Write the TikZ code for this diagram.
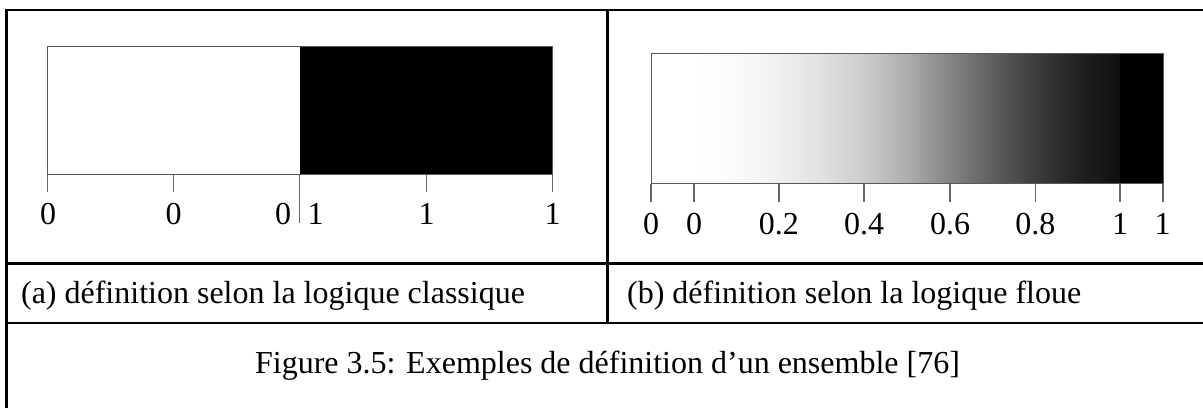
\documentclass[tikz,border=0pt]{standalone}
\usepackage{fontspec}
\setmainfont{Liberation Serif}
\pgfdeclarehorizontalshading{fuzzyramp}{100bp}{color(0bp)=(white); color(25bp)=(white);
  color(30bp)=(white!98!black); color(35bp)=(white!94!black); color(40bp)=(white!88!black);
  color(45bp)=(white!80!black); color(50bp)=(white!68!black); color(55bp)=(white!52!black);
  color(60bp)=(white!37!black); color(65bp)=(white!24!black); color(70bp)=(white!13!black);
  color(75bp)=(white!6!black); color(100bp)=(white!6!black)}
\tikzset{
  frame/.style={line width=1.3pt, black},
  bar/.style={draw=black!65, line width=0.6pt},
  tickmark/.style={draw=black!60, line width=0.8pt},
  ticklabel/.style={anchor=base, inner sep=0pt, font=\fontsize{16}{19}\selectfont},
  legend/.style={anchor=base west, inner sep=0pt, font=\fontsize{16}{19}\selectfont}
}

\begin{document}
\begin{tikzpicture}[x=0.5pt, y=-0.5pt]
  \useasboundingbox (0,0) rectangle (1203,408);

  % table lines
  \draw[frame] (6.5,408) -- (6.5,10) -- (1203,10);
  \draw[frame] (6.5,263.5) -- (1203,263.5);
  \draw[frame] (6.5,323) -- (1203,323);
  \draw[frame] (607.5,10) -- (607.5,323);

  % (a) crisp set
  \fill[white] (47.5,46.7) rectangle (299.6,174.7);
  \fill[black] (299.6,46.7) rectangle (552.5,174.7);
  \draw[bar] (47.5,46.7) rectangle (552.5,174.7);
  \foreach \x in {47.5,173.5,426.5,552.5}
    \draw[tickmark] (\x,174.7) -- (\x,191.7);
  \draw[tickmark] (299.6,174.7) -- (299.6,223);

  \node[ticklabel] (a1) at (48,224) {0};
  \node[ticklabel] (a2) at (173.5,224) {0};
  \node[ticklabel] (a3) at (283,224) {0};
  \node[ticklabel] (a4) at (315.5,224) {1};
  \node[ticklabel] (a5) at (426.5,224) {1};
  \node[ticklabel] (a6) at (552.5,224) {1};

  % (b) fuzzy set
  \fill[white] (651.2,53.3) rectangle (694.2,183.7);
  \shade[shading=fuzzyramp] (694.2,53.3) rectangle (1120,183.7);
  \fill[black] (1120,53.3) rectangle (1163.8,183.7);
  \draw[bar] (651.2,53.3) rectangle (1163.8,183.7);
  \foreach \x in {651.2,694.2,778.8,864.2,950,1035.4,1120,1162.7}
    \draw[tickmark] (\x,183.7) -- (\x,201.7);

  \node[ticklabel] (b1) at (651.2,234) {0};
  \node[ticklabel] (b2) at (694.2,234) {0};
  \node[ticklabel] (b3) at (778.8,234) {0.2};
  \node[ticklabel] (b4) at (864.2,234) {0.4};
  \node[ticklabel] (b5) at (950,234) {0.6};
  \node[ticklabel] (b6) at (1035.4,234) {0.8};
  \node[ticklabel] (b7) at (1120,234) {1};
  \node[ticklabel] (b8) at (1162.7,234) {1};

  % captions
  \node[legend] (capa) at (20.7,303) {(a) définition selon la logique classique};
  \node[legend] (capb) at (626.7,303) {(b) définition selon la logique floue};
  \node[ticklabel] (fig) at (607.5,373) {Figure 3.5: Exemples de définition d’un ensemble [76]};
\end{tikzpicture}
\end{document}
